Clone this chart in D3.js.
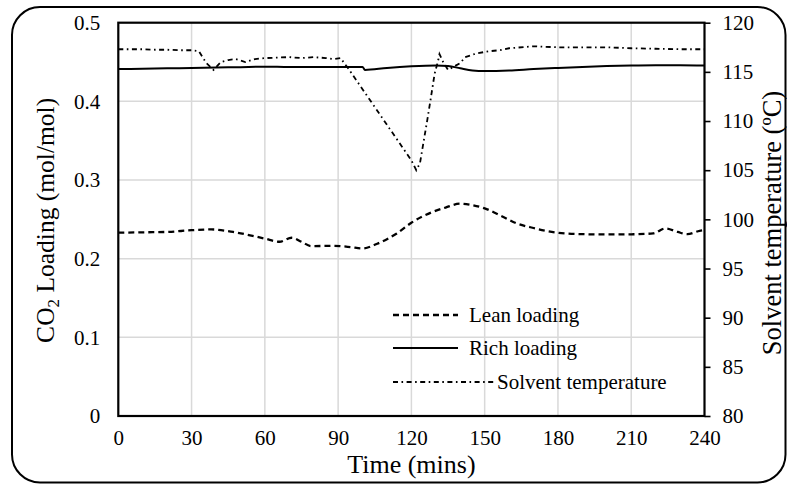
<!DOCTYPE html>
<html><head><meta charset="utf-8">
<script src="https://cdn.jsdelivr.net/npm/d3@7"></script>
<style>
html,body{margin:0;padding:0;background:#fff;}
svg text{font-family:"Liberation Serif","Times New Roman",serif !important;fill:#000;}
</style></head>
<body><svg id="c" width="787" height="484"></svg>
<script>
// ---- data ----
const xTicks = [0,30,60,90,120,150,180,210,240];
const leftTicks = [0,0.1,0.2,0.3,0.4,0.5];
const leftTickLabels = ["0","0.1","0.2","0.3","0.4","0.5"];
const rightTicks = [80,85,90,95,100,105,110,115,120];

const leanTime = [0,10,20,30,38,47,55,60,66,71,75,79,88,95,100,106,114,120,128,134,140,145,150,157,163,170,180,190,200,210,219,224,229,233,238,240];
const leanLoading = [0.233,0.2335,0.234,0.2362,0.2372,0.234,0.229,0.2255,0.2215,0.2266,0.2215,0.216,0.2164,0.2148,0.213,0.219,0.232,0.2457,0.2585,0.265,0.270,0.268,0.264,0.254,0.245,0.239,0.233,0.2312,0.2308,0.231,0.2321,0.2385,0.234,0.2312,0.2355,0.2365];

const richTime = [0,10,20,30,40,50,60,70,80,90,100,101,110,120,130,135,140,145,150,160,170,180,190,200,210,220,230,240];
const richLoading = [0.441,0.4415,0.442,0.4425,0.443,0.4435,0.444,0.4438,0.4438,0.4438,0.4438,0.440,0.4425,0.4445,0.4455,0.445,0.442,0.4393,0.4385,0.4392,0.441,0.4425,0.4438,0.4448,0.4455,0.4458,0.4458,0.4455];

const tempTime = [0,5,10,15,20,25,30,33,36,39,42,45,48,52,56,60,65,70,75,80,85,88,91,94,120,122,123.5,125,126.5,128,129.5,131,131.5,133,135,140,142,147,152,156,160,170,180,190,200,210,220,230,240];
const solventTemp = [117.3,117.3,117.3,117.25,117.25,117.2,117.2,117.1,115.9,115.2,116.0,116.2,116.3,116.0,116.3,116.4,116.45,116.5,116.4,116.5,116.4,116.3,116.4,115.4,106.0,105.0,105.7,107.9,110.1,112.4,114.8,116.2,116.8,116.0,115.2,115.9,116.5,116.9,117.1,117.2,117.4,117.6,117.5,117.5,117.5,117.4,117.35,117.3,117.3];

const legendLabels = ["Lean loading","Rich loading","Solvent temperature"];

// ---- layout ----
const FONT = "Liberation Serif, Times New Roman, serif";
const svg = d3.select("#c");
const L = 118.3, R = 704.5, T = 22.7, B = 416;
const x = d3.scaleLinear().domain([0,240]).range([L,R]);
const yL = d3.scaleLinear().domain([0,0.5]).range([B,T]);
const yR = d3.scaleLinear().domain([80,120]).range([B,T]);

// outer frame
svg.append("rect").attr("x",12).attr("y",7).attr("width",773.5).attr("height",475.5)
  .attr("rx",28).attr("ry",28).attr("fill","none").attr("stroke","#000").attr("stroke-width",2);

// gridlines
const g = svg.append("g");
g.selectAll(".vg").data(xTicks.slice(1,-1)).enter().append("line")
  .attr("x1",d=>x(d)).attr("x2",d=>x(d)).attr("y1",T).attr("y2",B)
  .attr("stroke","#d9d9d9").attr("stroke-width",1.5);
g.selectAll(".hg").data(leftTicks.slice(1,-1)).enter().append("line")
  .attr("y1",d=>yL(d)).attr("y2",d=>yL(d)).attr("x1",L).attr("x2",R)
  .attr("stroke","#d9d9d9").attr("stroke-width",1.5);

// axes
const fs = 21;
const axB = d3.axisBottom(x).tickValues(xTicks).tickSize(0).tickPadding(14);
const gb = svg.append("g").attr("transform",`translate(0,${B})`).call(axB).attr("font-family",FONT);
gb.select(".domain").remove();
gb.selectAll("text").attr("font-size",fs).attr("font-family",FONT).attr("fill","#000");

const axL = d3.axisLeft(yL).tickValues(leftTicks).tickFormat((d,i)=>leftTickLabels[i]).tickSize(0).tickPadding(18);
const gl = svg.append("g").attr("transform",`translate(${L},0)`).call(axL).attr("font-family",FONT);
gl.select(".domain").remove();
gl.selectAll("text").attr("font-size",fs).attr("font-family",FONT).attr("fill","#000");

const axR = d3.axisRight(yR).tickValues(rightTicks).tickSize(6).tickPadding(12);
const gr = svg.append("g").attr("transform",`translate(${R},0)`).call(axR).attr("font-family",FONT);
gr.select(".domain").remove();
gr.selectAll("line").attr("stroke","#000").attr("stroke-width",1.6);
gr.selectAll("text").attr("font-size",fs).attr("font-family",FONT).attr("fill","#000");

// plot box
svg.append("rect").attr("x",L).attr("y",T).attr("width",R-L).attr("height",B-T)
  .attr("fill","none").attr("stroke","#000").attr("stroke-width",2.2);

// lines
const lineL = d3.line().x(d=>x(d[0])).y(d=>yL(d[1])).curve(d3.curveMonotoneX);
const lineT = d3.line().x(d=>x(d[0])).y(d=>yR(d[1]));
svg.append("path").datum(d3.zip(leanTime,leanLoading)).attr("d",lineL)
  .attr("fill","none").attr("stroke","#000").attr("stroke-width",2.3).attr("stroke-dasharray","6,4");
svg.append("path").datum(d3.zip(richTime,richLoading)).attr("d",lineL)
  .attr("fill","none").attr("stroke","#000").attr("stroke-width",2);
svg.append("path").datum(d3.zip(tempTime,solventTemp)).attr("d",lineT)
  .attr("fill","none").attr("stroke","#000").attr("stroke-width",1.8).attr("stroke-dasharray","5,3.5,1.6,3.5");

// legend
const leg = [
  {y:315, x2:458, tx:469, dash:"6,4", w:2.3},
  {y:348, x2:458, tx:469, dash:null, w:2},
  {y:382, x2:495, tx:497, dash:"5,3.5,1.6,3.5", w:1.8}
];
leg.forEach((l,i)=>{
  const ln = svg.append("line").attr("x1",393).attr("x2",l.x2).attr("y1",l.y).attr("y2",l.y)
    .attr("stroke","#000").attr("stroke-width",l.w);
  if(l.dash) ln.attr("stroke-dasharray",l.dash);
  svg.append("text").attr("x",l.tx).attr("y",l.y+7).attr("font-size",fs).attr("font-family",FONT).text(legendLabels[i]);
});

// axis titles
svg.append("text").attr("x",(L+R)/2).attr("y",473).attr("text-anchor","middle").attr("font-size",26).attr("font-family",FONT).text("Time (mins)");
const lt = svg.append("text").attr("transform",`translate(54,${(T+B)/2+1}) rotate(-90)`).attr("text-anchor","middle").attr("font-size",25.5).attr("font-family",FONT);
lt.append("tspan").text("CO");
lt.append("tspan").attr("font-size",17).attr("dy",5).text("2");
lt.append("tspan").attr("dy",-5).text(" Loading (mol/mol)");
svg.append("text").attr("transform",`translate(781,223) rotate(-90)`).attr("text-anchor","middle").attr("font-size",26.5).attr("font-family",FONT).text("Solvent temperature (ºC)");
</script></body></html>
